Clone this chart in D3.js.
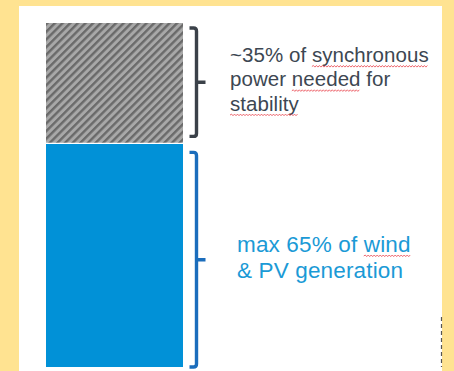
<!DOCTYPE html>
<html>
<head>
<meta charset="utf-8">
<script src="https://cdn.jsdelivr.net/npm/d3@7"></script>
<style>
  html, body { margin: 0; padding: 0; background: #FFE391; }
  svg { display: block; }
</style>
</head>
<body>
<svg id="chart" width="454" height="371"></svg>
<script>
// Share of generation in the stacked column (percent), bottom to top
const segments = ["wind_pv", "synchronous"];
const shares = [65, 35];
const segmentFills = ["#0191D7", "url(#hatch)"];

// Annotation text, one entry per segment; words flagged by the spell checker get a squiggle
const noteLines = [
  [ // wind & PV
    [["max", false], ["65%", false], ["of", false], ["wind", true]],
    [["&", false], ["PV", false], ["generation", false]]
  ],
  [ // synchronous
    [["~35%", false], ["of", false], ["synchronous", true]],
    [["power", false], ["needed", true], ["for", false]],
    [["stability", true]]
  ]
];
const noteColors = ["#1B9AD6", "#3D4752"];
const bracketColors = ["#1B6DBC", "#3B4149"];

const svg = d3.select("#chart");
const W = 454, H = 371;

// page frame
svg.append("rect").attr("width", W).attr("height", H).attr("fill", "#FFE391");
svg.append("rect").attr("x", 19).attr("y", 6).attr("width", 423).attr("height", H - 6).attr("fill", "#ffffff");

// diagonal hatch for the synchronous block
const defs = svg.append("defs");
const pat = defs.append("pattern")
  .attr("id", "hatch").attr("patternUnits", "userSpaceOnUse")
  .attr("width", 5.4).attr("height", 5.4)
  .attr("patternTransform", "rotate(45)");
pat.append("rect").attr("width", 5.4).attr("height", 5.4).attr("fill", "#A8A8A8");
pat.append("rect").attr("width", 2.4).attr("height", 5.4).attr("fill", "#6A6A6A");

// scales
const x = d3.scaleBand().domain(["mix"]).range([46, 183]).padding(0);
const y = d3.scaleLinear().domain([0, 100]).range([367, 23]);

// stacked segments
const starts = d3.cumsum([0, ...shares]).slice(0, shares.length);
const stacked = shares.map((v, i) => ({ key: segments[i], y0: starts[i], y1: starts[i] + v, i }));

svg.append("g").selectAll("rect").data(stacked).join("rect")
  .attr("x", x("mix"))
  .attr("width", x.bandwidth())
  .attr("y", d => y(d.y1))
  .attr("height", d => y(d.y0) - y(d.y1))
  .attr("fill", (d, i) => segmentFills[i]);

// thin white seam between blocks
svg.append("line")
  .attr("x1", x("mix")).attr("x2", x("mix") + x.bandwidth())
  .attr("y1", y(starts[1])).attr("y2", y(starts[1]))
  .attr("stroke", "#ffffff").attr("stroke-width", 1.2);

// brackets to the right of each block
const insets = [[0, 9], [7, 5]]; // [bottom, top] gaps in px
function bracketPath(top, bot, xv, tick) {
  const r = 3;
  const mid = (top + bot) / 2;
  return `M${xv - 7},${top} L${xv - r},${top} Q${xv},${top} ${xv},${top + r}` +
         ` L${xv},${bot - r} Q${xv},${bot} ${xv - r},${bot} L${xv - 7},${bot}` +
         ` M${xv},${mid} L${xv + tick},${mid}`;
}
svg.append("g").selectAll("path").data(stacked).join("path")
  .attr("d", d => bracketPath(y(d.y1) + insets[d.i][1], y(d.y0) - insets[d.i][0], 196.5, 9))
  .attr("fill", "none")
  .attr("stroke", d => bracketColors[d.i])
  .attr("stroke-width", 3.4)
  .attr("stroke-linejoin", "round");

// annotation text
const noteBase = [251.5, 62];
const noteX = [237, 230];
const noteSize = [22.5, 20.5];
const noteSpacing = [0.15, 0.05];
const noteLead = [26.5, 24.3];

function squiggle(x0, x1, yy) {
  const step = 1.5;
  let p = `M${x0},${yy}`;
  let up = true;
  for (let xx = x0 + step; xx <= x1; xx += step) {
    p += ` L${xx},${yy + (up ? -1 : 0.6)}`;
    up = !up;
  }
  return p;
}

noteLines.forEach((lines, s) => {
  const g = svg.append("g");
  lines.forEach((words, li) => {
    const yy = noteBase[s] + li * noteLead[s];
    const t = g.append("text")
      .attr("x", noteX[s]).attr("y", yy)
      .attr("font-family", "Liberation Sans, Arial, sans-serif")
      .attr("font-size", noteSize[s])
      .attr("letter-spacing", noteSpacing[s])
      .attr("fill", noteColors[s]);
    words.forEach((w, wi) => {
      t.append("tspan").text((wi ? " " : "") + w[0]).attr("data-flag", w[1] ? 1 : 0);
    });
    // spell-check squiggles under flagged words
    t.selectAll("tspan").each(function() {
      if (this.getAttribute("data-flag") !== "1") return;
      const txt = this.textContent;
      const lead = txt.startsWith(" ") ? 1 : 0;
      const n = txt.length;
      const startX = this.getStartPositionOfChar(lead).x;
      const endX = this.getEndPositionOfChar(n - 1).x;
      g.append("path")
        .attr("d", squiggle(startX, endX, yy + 4.5))
        .attr("fill", "none").attr("stroke", "#E8434B").attr("stroke-width", 0.8);
    });
  });
});

// dashed edge mark at lower right
svg.append("line")
  .attr("x1", 441.5).attr("x2", 441.5).attr("y1", 317).attr("y2", 367)
  .attr("stroke", "#555").attr("stroke-width", 1.2).attr("stroke-dasharray", "4,3");
</script>
</body>
</html>
